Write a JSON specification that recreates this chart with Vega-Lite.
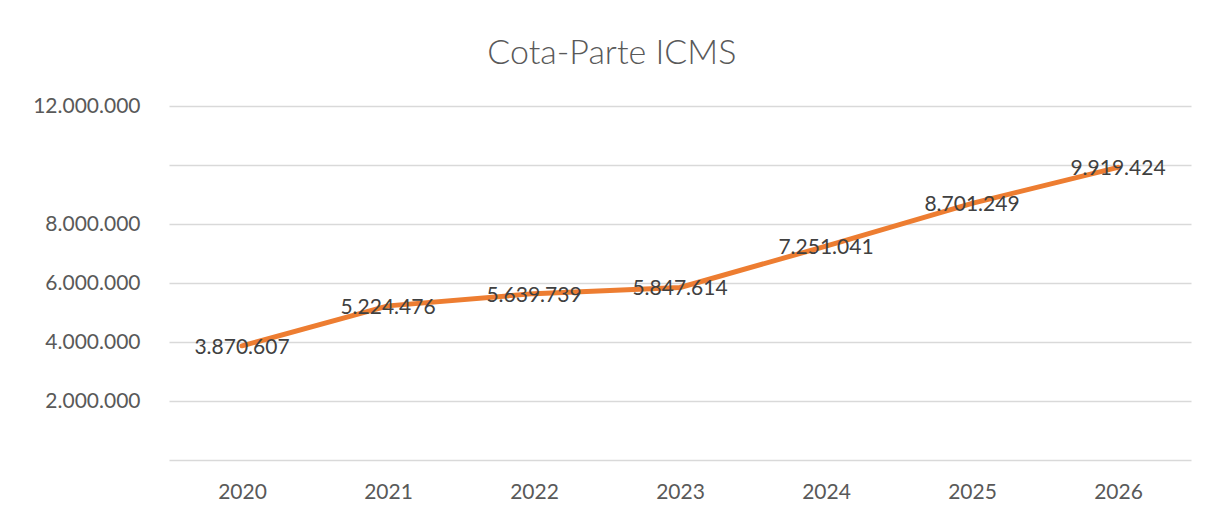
{
  "$schema": "https://vega.github.io/schema/vega-lite/v6.json",
  "width": 1022,
  "height": 354,
  "autosize": {"type": "none"},
  "padding": {"left": 169, "top": 106, "right": 26, "bottom": 57},
  "background": "white",
  "config": {
    "locale": {"number": {"decimal": ",", "thousands": ".", "grouping": [3], "currency": ["R$", ""]}},
    "view": {"stroke": null},
    "font": "Lato"
  },
  "title": {
    "text": "Cota-Parte ICMS",
    "font": "Lato",
    "fontSize": 34,
    "fontWeight": 300,
    "color": "#595959",
    "anchor": "middle",
    "frame": "bounds",
    "offset": 24
  },
  "data": {
    "values": [
      {"ano": "2020", "valor": 3870607},
      {"ano": "2021", "valor": 5224476},
      {"ano": "2022", "valor": 5639739},
      {"ano": "2023", "valor": 5847614},
      {"ano": "2024", "valor": 7251041},
      {"ano": "2025", "valor": 8701249},
      {"ano": "2026", "valor": 9919424}
    ]
  },
  "encoding": {
    "x": {
      "field": "ano",
      "type": "ordinal",
      "scale": {"type": "point", "padding": 0.5},
      "axis": {
        "title": null,
        "labelAngle": 0,
        "domain": false,
        "ticks": false,
        "grid": false,
        "labelFont": "Lato",
        "labelFontSize": 21,
        "labelColor": "#595959",
        "labelPadding": 21
      }
    },
    "y": {
      "field": "valor",
      "type": "quantitative",
      "scale": {"domain": [0, 12000000], "nice": false},
      "axis": {
        "title": null,
        "values": [0, 2000000, 4000000, 6000000, 8000000, 10000000, 12000000],
        "labelExpr": "datum.value == 0 || datum.value == 10000000 ? '' : format(datum.value, ',d')",
        "domain": false,
        "ticks": false,
        "grid": true,
        "gridColor": "#D9D9D9",
        "gridWidth": 1.3,
        "labelFont": "Lato",
        "labelFontSize": 21,
        "labelColor": "#595959",
        "labelPadding": 29
      }
    }
  },
  "layer": [
    {
      "mark": {"type": "line", "color": "#ED7D31", "strokeWidth": 5, "strokeCap": "round", "strokeJoin": "round"}
    },
    {
      "mark": {"type": "text", "font": "Lato", "fontSize": 21, "color": "#404040", "baseline": "middle", "align": "center", "dy": 2},
      "encoding": {
        "text": {"field": "valor", "type": "quantitative", "format": ",d"}
      }
    }
  ]
}
